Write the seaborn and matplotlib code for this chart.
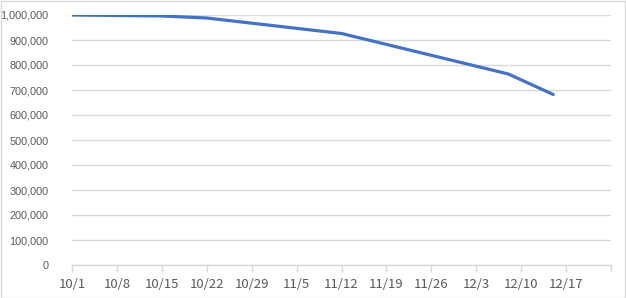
import matplotlib
matplotlib.use("Agg")
import matplotlib.pyplot as plt
from matplotlib.ticker import FuncFormatter
from matplotlib.patches import Rectangle
import seaborn as sns
import pandas as pd

dates = ["2020-10-01", "2020-10-15", "2020-10-22", "2020-11-12", "2020-12-08", "2020-12-15"]
values = [1000000, 996000, 988000, 926000, 764000, 682000]
tick_dates = ["2020-10-01", "2020-10-08", "2020-10-15", "2020-10-22", "2020-10-29", "2020-11-05",
              "2020-11-12", "2020-11-19", "2020-11-26", "2020-12-03", "2020-12-10", "2020-12-17"]
tick_labels = ["10/1", "10/8", "10/15", "10/22", "10/29", "11/5",
               "11/12", "11/19", "11/26", "12/3", "12/10", "12/17"]
y_ticks = [0, 100000, 200000, 300000, 400000, 500000, 600000, 700000, 800000, 900000, 1000000]

df = pd.DataFrame({"date": pd.to_datetime(dates), "value": values})

sns.set_theme(style="white")
fig = plt.figure(figsize=(6.26, 2.98), dpi=100)
ax = fig.add_axes([72/626, 1 - 265/298, (611-72)/626, (265-15)/298])

sns.lineplot(data=df, x="date", y="value", ax=ax, color="#4472C4", linewidth=2.3)

ax.set_ylim(0, 1000000)
ax.set_xlim(pd.Timestamp("2020-10-01"), pd.Timestamp("2020-12-24"))
ax.set_yticks(y_ticks)
ax.yaxis.set_major_formatter(FuncFormatter(lambda v, p: f"{int(v):,}"))
ax.set_xticks(pd.to_datetime(tick_dates + ["2020-12-24"]))
ax.set_xticklabels(tick_labels + [""], family=["Noto Sans CJK JP", "DejaVu Sans"], fontsize=9.5, color="#595959")
for lab in ax.get_yticklabels():
    lab.set_family(["Liberation Sans", "DejaVu Sans"])
    lab.set_fontsize(7.8)
    lab.set_color("#595959")

ax.grid(axis="y", color="#D9D9D9", linewidth=1)
ax.set_axisbelow(True)
for s in ["top", "right", "left"]:
    ax.spines[s].set_visible(False)
ax.spines["bottom"].set_color("#D9D9D9")
ax.spines["bottom"].set_linewidth(1)
ax.tick_params(axis="x", which="major", bottom=True, length=5, width=1, color="#D9D9D9", pad=4)
ax.tick_params(axis="y", left=False, pad=11)
ax.set_xlabel("")
ax.set_ylabel("")

fig.patches.append(Rectangle((0.5/626, 0.5/298), 1 - 1.5/626, 1 - 1.5/298, transform=fig.transFigure,
                             fill=False, edgecolor="#D9D9D9", linewidth=1))

fig.savefig("out.png", dpi=100)
